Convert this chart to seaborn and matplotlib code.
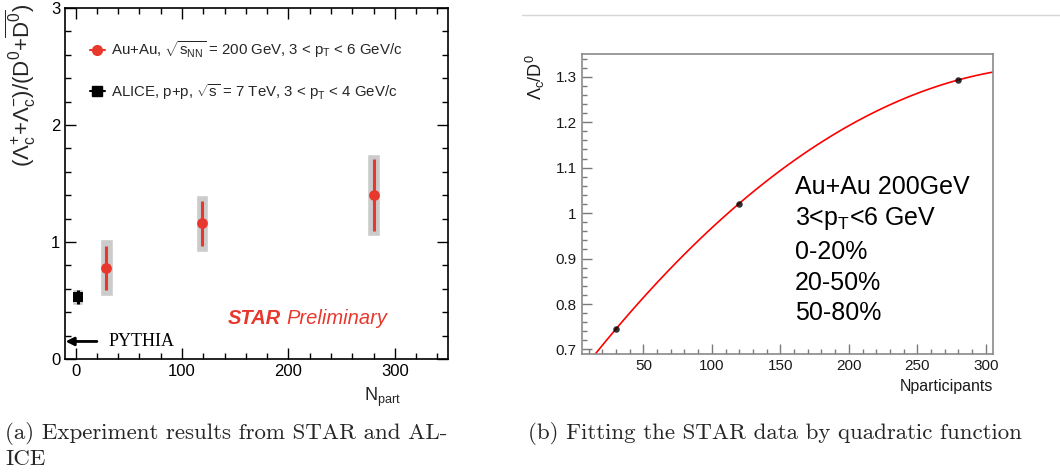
import numpy as np
import pandas as pd
import matplotlib
matplotlib.use('Agg')
import matplotlib.pyplot as plt
import seaborn as sns
from matplotlib.lines import Line2D
from matplotlib.ticker import MultipleLocator, FixedLocator, FuncFormatter

# ---------------- data ----------------
star_npart = [29, 119, 280]
star_ratio = [0.78, 1.16, 1.40]
star_stat = [0.19, 0.19, 0.31]
star_sys = [0.245, 0.245, 0.35]

alice_npart = [2]
alice_ratio = [0.53]
alice_stat = [0.06]
alice_sys = [0.065]

pythia_ratio = 0.15

fit_npart = [30, 119.5, 280]
fit_ratio = [0.745, 1.02, 1.293]

left_xticks = [0, 100, 200, 300]
left_yticks = [0, 1, 2, 3]
right_xticks = [50, 100, 150, 200, 250, 300]
right_yticks = [0.7, 0.8, 0.9, 1.0, 1.1, 1.2, 1.3]
fit_labels = ["Au+Au 200GeV", r"3<p$_{\rm T}$<6 GeV", "0-20%", "20-50%", "50-80%"]

legend_labels = [
    r"Au+Au, $\sqrt{s_{\rm NN}}$ = 200 GeV, 3 < p$_{\rm T}$ < 6 GeV/c",
    r"ALICE, p+p, $\sqrt{s}$ = 7 TeV, 3 < p$_{\rm T}$ < 4 GeV/c",
]
caption_a = ["(a) Experiment results from STAR and AL-", "ICE"]
caption_b = "(b) Fitting the STAR data by quadratic function"

# ---------------- style ----------------
sns.set_theme(style='ticks')
plt.rcParams['font.family'] = ['Liberation Sans', 'DejaVu Sans']
plt.rcParams['mathtext.fontset'] = 'custom'
plt.rcParams['mathtext.rm'] = 'Liberation Sans'
plt.rcParams['mathtext.it'] = 'Liberation Sans:italic'
plt.rcParams['mathtext.bf'] = 'Liberation Sans:bold'
plt.rcParams['mathtext.default'] = 'regular'

RED = '#e8382d'
GREY = '#cbcbcb'

fig = plt.figure(figsize=(10.6, 4.75), dpi=100)
W, H = 1060, 475
axL = fig.add_axes([65 / W, 1 - 359 / H, 383 / W, 351 / H])
axR = fig.add_axes([581.7 / W, 1 - 354 / H, 411 / W, 300 / H])

# ---------------- left panel ----------------
df_star = pd.DataFrame({'npart': star_npart, 'ratio': star_ratio,
                        'stat': star_stat, 'sys': star_sys})
df_alice = pd.DataFrame({'npart': alice_npart, 'ratio': alice_ratio,
                         'stat': alice_stat, 'sys': alice_sys})

axL.bar(df_star['npart'], 2 * df_star['sys'], bottom=df_star['ratio'] - df_star['sys'],
        width=11.5, color=GREY, zorder=1)
axL.bar(df_alice['npart'], 2 * df_alice['sys'], bottom=df_alice['ratio'] - df_alice['sys'],
        width=10, color=GREY, zorder=1)
axL.errorbar(df_star['npart'], df_star['ratio'], yerr=df_star['stat'], fmt='none',
             ecolor=RED, elinewidth=2.2, capsize=0, zorder=2)
axL.errorbar(df_alice['npart'], df_alice['ratio'], yerr=df_alice['stat'], fmt='none',
             ecolor='black', elinewidth=2.2, capsize=0, zorder=2)
sns.scatterplot(data=df_star, x='npart', y='ratio', ax=axL, color=RED, s=60,
                edgecolor=RED, linewidth=0, zorder=3, legend=False)
sns.scatterplot(data=df_alice, x='npart', y='ratio', ax=axL, color='black', marker='s',
                s=50, edgecolor='black', linewidth=0, zorder=3, legend=False)

axL.set_xlim(-10, 350)
axL.set_ylim(0, 3)
axL.xaxis.set_major_locator(FixedLocator(left_xticks))
axL.yaxis.set_major_locator(FixedLocator(left_yticks))
axL.xaxis.set_minor_locator(MultipleLocator(20))
axL.yaxis.set_minor_locator(MultipleLocator(0.2))
axL.tick_params(which='both', direction='in', top=True, right=True, colors='black',
                labelsize=12, width=1.0)
axL.tick_params(which='major', length=8)
axL.tick_params(which='minor', length=4.5)
for s in axL.spines.values():
    s.set_color('black')
    s.set_linewidth(1.2)

axL.set_xlabel(r"N$_{\rm part}$", fontsize=13)
axL.xaxis.set_label_coords(0.83, -0.075)
axL.set_ylabel(r"$(\Lambda_{c}^{+}{+}\Lambda_{c}^{-})/(D^{0}{+}\overline{D^{0}})$",
               fontsize=16, loc='top')
axL.yaxis.set_label_coords(-0.07, 1.012)

handles = [Line2D([], [], color=RED, marker='o', markersize=7, lw=1.5),
           Line2D([], [], color='black', marker='s', markersize=6.5, lw=1.5)]
axL.legend(handles, legend_labels, loc='upper left', bbox_to_anchor=(0.065, 0.91),
           frameon=False, fontsize=10.8, handlelength=1.0, handletextpad=0.4,
           labelspacing=1.45, borderpad=0, borderaxespad=0)

t = axL.text(143, 0.35, "STAR", color=RED, fontsize=14.5, fontweight='bold',
             fontstyle='italic', va='center', ha='left')
axL.annotate("Preliminary", xy=(1, 0), xycoords=t, xytext=(4, 0),
             textcoords='offset points', color=RED, fontsize=14.5, fontstyle='italic',
             va='bottom', ha='left')

axL.annotate("", xy=(-9.5, pythia_ratio), xytext=(20, pythia_ratio),
             arrowprops=dict(arrowstyle='-|>', color='black', lw=2, mutation_scale=12,
                             shrinkA=0, shrinkB=0))
axL.text(31, pythia_ratio, "PYTHIA", fontfamily='Liberation Serif', fontsize=13,
         va='center', ha='left', color='black')

# ---------------- right panel ----------------
df_fit = pd.DataFrame({'npart': fit_npart, 'ratio': fit_ratio})
axR.set_xlim(5, 305)
axR.set_ylim(0.69, 1.35)
sns.regplot(data=df_fit, x='npart', y='ratio', order=2, ci=None, truncate=False, ax=axR,
            scatter_kws=dict(color='black', s=22, zorder=3, linewidths=0),
            line_kws=dict(color='red', lw=1.2, zorder=2))
axR.set_xlim(5, 305)
axR.set_ylim(0.69, 1.35)
axR.xaxis.set_major_locator(FixedLocator(right_xticks))
axR.yaxis.set_major_locator(FixedLocator(right_yticks))
axR.xaxis.set_minor_locator(MultipleLocator(10))
axR.yaxis.set_minor_locator(MultipleLocator(0.02))
axR.yaxis.set_major_formatter(FuncFormatter(lambda v, p: f"{v:g}"))
axR.tick_params(which='both', direction='in', colors='#7a7a7a', labelcolor='#1a1a1a',
                labelsize=11, width=1.0)
axR.tick_params(which='major', length=7)
axR.tick_params(which='minor', length=3.5)
for s in axR.spines.values():
    s.set_color('#8a8a8a')
    s.set_linewidth(1.2)
axR.set_xlabel("Nparticipants", fontsize=11.5, loc='right', color='#1a1a1a')
axR.xaxis.set_label_coords(1.0, -0.085)
axR.set_ylabel(r"$\Lambda_{c}/D^{0}$", fontsize=13, loc='top', color='#1a1a1a')
axR.yaxis.set_label_coords(-0.084, 1.0)

ys = [0.557, 0.453, 0.341, 0.237, 0.137]
for lab, yy in zip(fit_labels, ys):
    axR.text(0.519, yy, lab, transform=axR.transAxes, fontsize=18, va='center',
             ha='left', color='black')

# top separator line on right
fig.add_artist(Line2D([522 / W, 1.0], [1 - 15 / H, 1 - 15 / H], transform=fig.transFigure,
                      color='#d6d6d6', lw=1))

# captions
fig.text(5 / W, 1 - 439 / H, caption_a[0], fontfamily='cmr10', fontsize=16.5, va='baseline',
         ha='left')
fig.text(5 / W, 1 - 465 / H, caption_a[1], fontfamily='cmr10', fontsize=16.5, va='baseline',
         ha='left')
fig.text(528 / W, 1 - 439 / H, caption_b, fontfamily='cmr10', fontsize=16.5, va='baseline',
         ha='left')

fig.savefig('out.png', dpi=100)
